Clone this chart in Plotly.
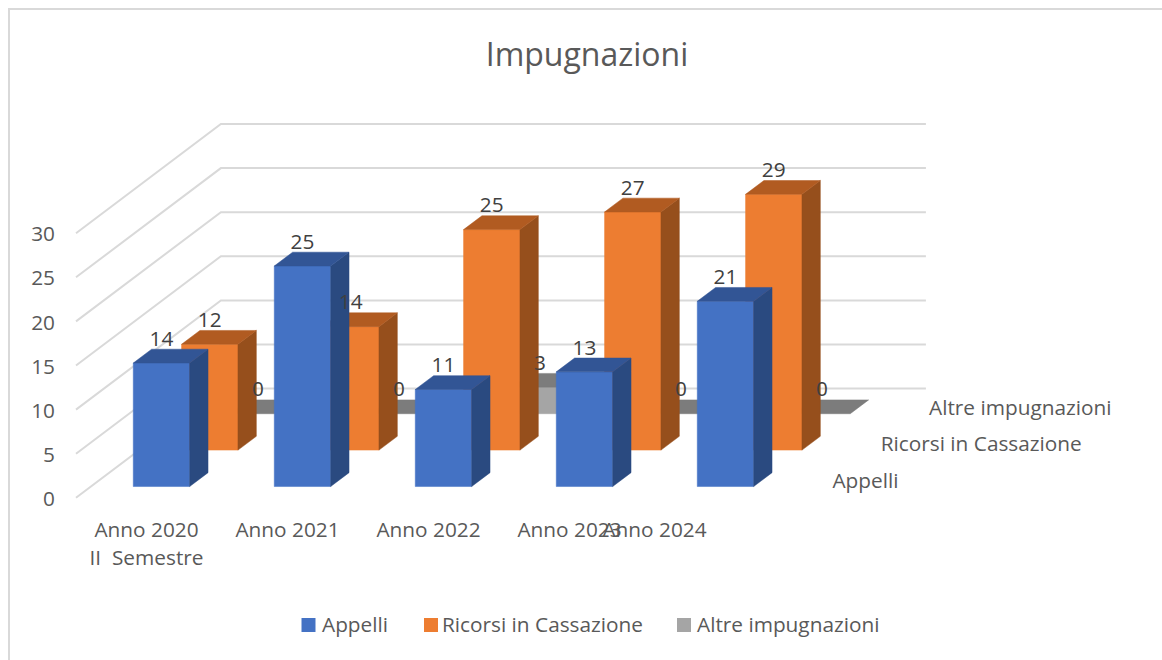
import plotly.graph_objects as go

categories = ["Anno 2020\nII\u00a0\u00a0Semestre", "Anno 2021", "Anno 2022", "Anno 2023", "Anno 2024"]
series_names = ["Appelli", "Ricorsi in Cassazione", "Altre impugnazioni"]
appelli = [14, 25, 11, 13, 21]
ricorsi = [12, 14, 25, 27, 29]
altre = [0, 0, 3, 0, 0]
axis_ticks = [0, 5, 10, 15, 20, 25, 30]

series_values = [appelli, ricorsi, altre]
front_colors = ["#4472C4", "#ED7D31", "#A5A5A5"]
top_colors = ["#325595", "#B15B21", "#7C7C7C"]
side_colors = ["#2A4A80", "#964F1C", "#6E6E6E"]
legend_colors = ["#4472C4", "#ED7D31", "#A5A5A5"]

FONT = "Open Sans"
GRID = "#D9D9D9"
AXIS_TEXT = "#595959"
LABEL_TEXT = "#404040"
TEXT_SIZE = 20.8

# Oblique projection: (category, depth, value) -> page position
X0, Y0 = 76.0, 497.8
CAT_W = 141.0
DEPTH_X, DEPTH_Y = 48.3, 36.4
UNIT = 8.82
BAR_W = 0.4
BAR_D = 0.38
# the reference draws its last category label pushed left, over the one before it
LAST_LABEL_SHIFT = -56


def proj(c, d, v):
    return X0 + c * CAT_W + d * DEPTH_X, Y0 - d * DEPTH_Y - v * UNIT


def polygon_trace(polys, color, name):
    xs, ys = [], []
    for poly in polys:
        for c, d, v in poly + [poly[0]]:
            px, py = proj(c, d, v)
            xs.append(px)
            ys.append(py)
        xs.append(None)
        ys.append(None)
    return go.Scatter(x=xs, y=ys, mode="lines", fill="toself", fillcolor=color,
                      line=dict(color=color, width=0.5), hoverinfo="skip",
                      showlegend=False, name=name)


fig = go.Figure()

# chart frame
fig.add_trace(go.Scatter(x=[9, 9, 1162], y=[660, 9, 9], mode="lines",
                         line=dict(color=GRID, width=2), hoverinfo="skip", showlegend=False))

# walls
n_cat = len(categories)
n_ser = len(series_names)
gx, gy = [], []
for t in axis_ticks:
    for c, d in [(0, 0), (0, n_ser), (n_cat, n_ser)]:
        px, py = proj(c, d, t)
        gx.append(px)
        gy.append(py)
    gx.append(None)
    gy.append(None)
fig.add_trace(go.Scatter(x=gx, y=gy, mode="lines", line=dict(color=GRID, width=2),
                         hoverinfo="skip", showlegend=False))

# bars, back to front
label_x, label_y, label_t = [], [], []
for s in reversed(range(n_ser)):
    d0 = s + (1 - BAR_D) / 2
    d1 = d0 + BAR_D
    fronts, tops, sides = [], [], []
    for i, v in enumerate(series_values[s]):
        c0 = i + (1 - BAR_W) / 2
        c1 = c0 + BAR_W
        if v > 0:
            fronts.append([(c0, d0, 0), (c1, d0, 0), (c1, d0, v), (c0, d0, v)])
            sides.append([(c1, d0, 0), (c1, d1, 0), (c1, d1, v), (c1, d0, v)])
        tops.append([(c0, d0, v), (c1, d0, v), (c1, d1, v), (c0, d1, v)])
        px, py = proj((c0 + c1) / 2, d0, v)
        label_x.append(px)
        label_y.append(py - 22.5)
        label_t.append(str(v))
    name = series_names[s]
    if fronts:
        fig.add_trace(polygon_trace(fronts, front_colors[s], name))
    if sides:
        fig.add_trace(polygon_trace(sides, side_colors[s], name))
    fig.add_trace(polygon_trace(tops, top_colors[s], name))

# data labels
fig.add_trace(go.Scatter(x=label_x, y=label_y, text=label_t, mode="text",
                         textposition="middle center", hoverinfo="skip", showlegend=False,
                         textfont=dict(family=FONT, size=TEXT_SIZE, color=LABEL_TEXT)))

# value axis labels
tx, ty = [], []
for t in axis_ticks:
    px, py = proj(0, 0, t)
    tx.append(px - 21)
    ty.append(py + 3)
fig.add_trace(go.Scatter(x=tx, y=ty, text=[str(t) for t in axis_ticks], mode="text",
                         textposition="middle left", hoverinfo="skip", showlegend=False,
                         textfont=dict(family=FONT, size=TEXT_SIZE, color=AXIS_TEXT)))

# category labels
cx, cy, ct = [], [], []
for i, label in enumerate(categories):
    px, _ = proj(i + 0.5, 0, 0)
    if i == n_cat - 1:
        px += LAST_LABEL_SHIFT
    for j, line in enumerate(label.split("\n")):
        cx.append(px)
        cy.append(531.5 + j * 28)
        ct.append(line)
fig.add_trace(go.Scatter(x=cx, y=cy, text=ct, mode="text", textposition="middle center",
                         hoverinfo="skip", showlegend=False,
                         textfont=dict(family=FONT, size=TEXT_SIZE, color=AXIS_TEXT)))

# depth axis labels
dx, dy = [], []
for s in range(n_ser):
    px, py = proj(n_cat, s + 0.5, 0)
    dx.append(px + 27.3)
    dy.append(py + 3)
fig.add_trace(go.Scatter(x=dx, y=dy, text=series_names, mode="text",
                         textposition="middle right", hoverinfo="skip", showlegend=False,
                         textfont=dict(family=FONT, size=TEXT_SIZE, color=AXIS_TEXT)))

# legend
swatch_x = [308.5, 431, 684]
text_x = [322, 442, 697]
fig.add_trace(go.Scatter(x=swatch_x, y=[625] * 3, mode="markers",
                         marker=dict(symbol="square", size=14, color=legend_colors),
                         hoverinfo="skip", showlegend=False))
fig.add_trace(go.Scatter(x=text_x, y=[626.5] * 3, text=series_names, mode="text",
                         textposition="middle right", hoverinfo="skip", showlegend=False,
                         textfont=dict(family=FONT, size=TEXT_SIZE, color=AXIS_TEXT)))

fig.update_layout(
    width=1162, height=660, margin=dict(l=0, r=0, t=0, b=0),
    paper_bgcolor="white", plot_bgcolor="white", showlegend=False,
    title=dict(text="Impugnazioni", x=587 / 1162, xanchor="center", y=1 - 55 / 660, yanchor="middle",
               font=dict(family=FONT, size=32, color=AXIS_TEXT)),
    xaxis=dict(visible=False, range=[0, 1162], fixedrange=True),
    yaxis=dict(visible=False, range=[660, 0], fixedrange=True),
)

fig.write_html("out.html", config={"displayModeBar": False},
               post_script="document.body.style.margin='0';document.body.style.overflow='hidden';")
